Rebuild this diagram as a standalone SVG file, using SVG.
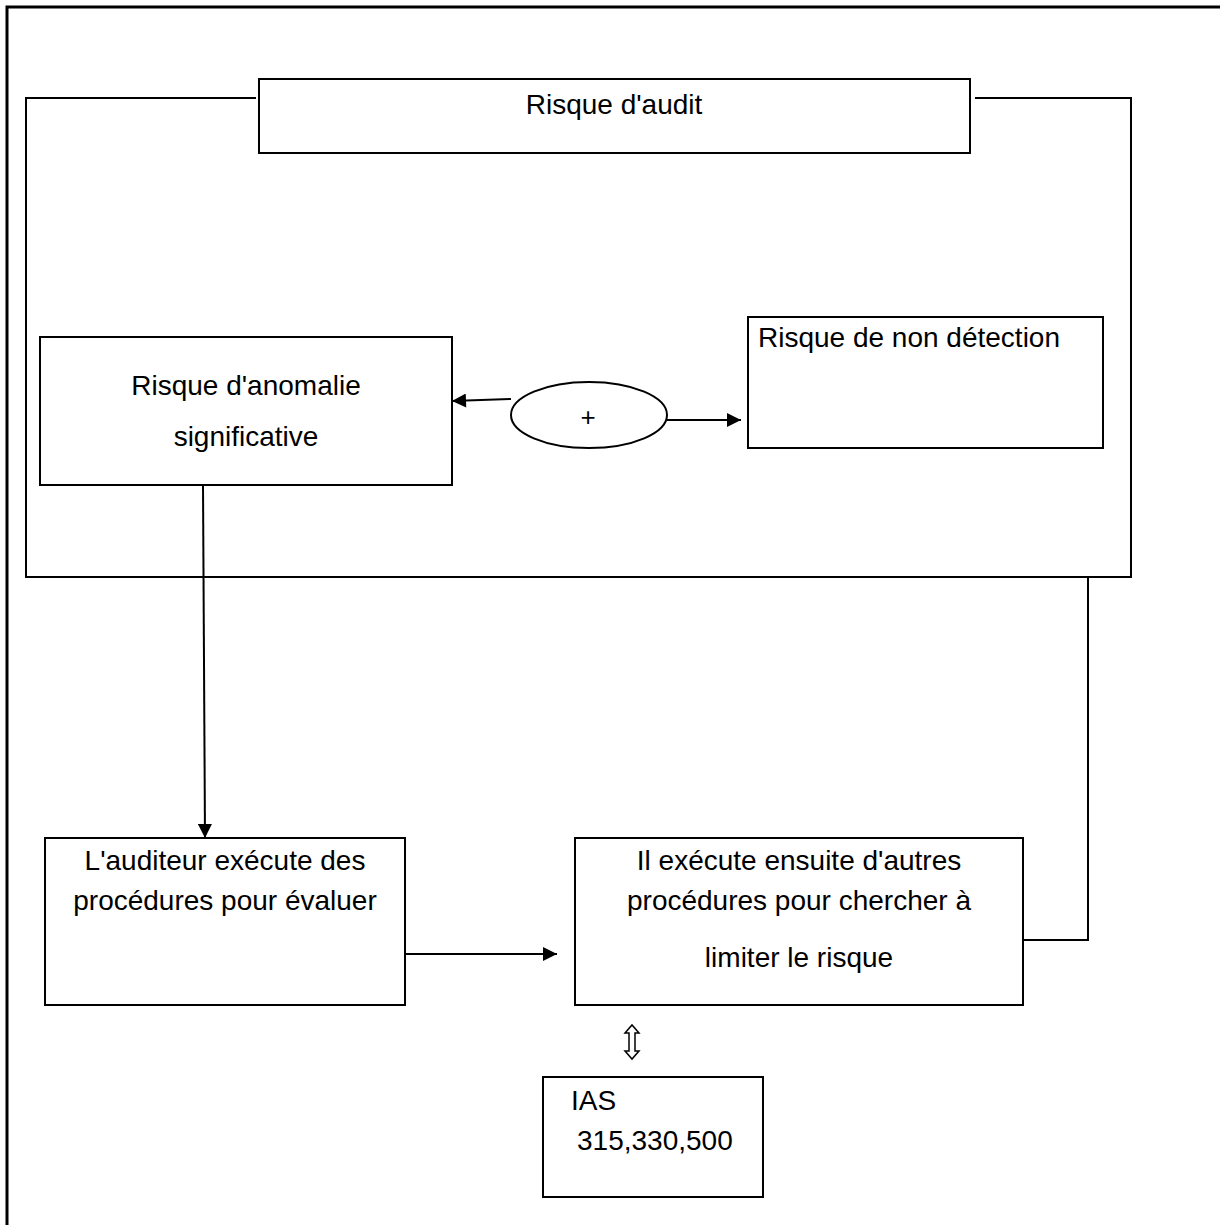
<svg xmlns="http://www.w3.org/2000/svg" width="1220" height="1225" viewBox="0 0 1220 1225">
<style>
.b{fill:#fff;stroke:#000;stroke-width:2}
.l{fill:none;stroke:#000;stroke-width:2}
text{font-family:"Liberation Sans",Arial,sans-serif;font-size:28px;fill:#000}
.c{text-anchor:middle}
</style>
<defs>
<marker id="ah" viewBox="0 0 10 10" refX="10" refY="5" markerWidth="18" markerHeight="14" markerUnits="userSpaceOnUse" orient="auto"><path d="M0,0L10,5L0,10z" fill="#000"/></marker>
</defs>
<rect width="1220" height="1225" fill="#fff"/>
<g id="frame" class="l">
<path d="M7,1225V7H1220" stroke-width="3"/>
<path d="M256,98H26V577H1131V98H975"/>
</g>
<g id="audit"><rect class="b" x="259" y="79" width="711" height="74"/><text class="c" x="614" y="114">Risque d'audit</text></g>
<g id="anomalie"><rect class="b" x="40" y="337" width="412" height="148"/><text class="c" x="246" y="395">Risque d'anomalie</text><text class="c" x="246" y="446">significative</text></g>
<g id="detection"><rect class="b" x="748" y="317" width="355" height="131"/><text x="758" y="347">Risque de non détection</text></g>
<g id="plus"><ellipse class="b" cx="589" cy="415" rx="78" ry="33"/><text class="c" x="588" y="426" style="font-size:26px">+</text></g>
<g id="auditeur"><rect class="b" x="45" y="838" width="360" height="167"/><text class="c" x="225" y="870">L'auditeur exécute des</text><text class="c" x="225" y="910">procédures pour évaluer</text></g>
<g id="execute"><rect class="b" x="575" y="838" width="448" height="167"/><text class="c" x="799" y="870">Il exécute ensuite d'autres</text><text class="c" x="799" y="910">procédures pour chercher à</text><text class="c" x="799" y="967">limiter le risque</text></g>
<g id="ias"><rect class="b" x="543" y="1077" width="220" height="120"/><text x="571" y="1110">IAS</text><text x="577" y="1150">315,330,500</text></g>
<g id="connectors" class="l">
<path d="M511,399L452,401" marker-end="url(#ah)"/>
<path d="M667,420H741" marker-end="url(#ah)"/>
<path d="M203,485L205,838" marker-end="url(#ah)"/>
<path d="M405,954H557" marker-end="url(#ah)"/>
<path d="M1023,940H1088V577"/>
<path d="M625,1033l7,-8l7,8h-4v18h4l-7,8l-7,-8h4v-18z" stroke-width="1.5"/>
</g>
</svg>
